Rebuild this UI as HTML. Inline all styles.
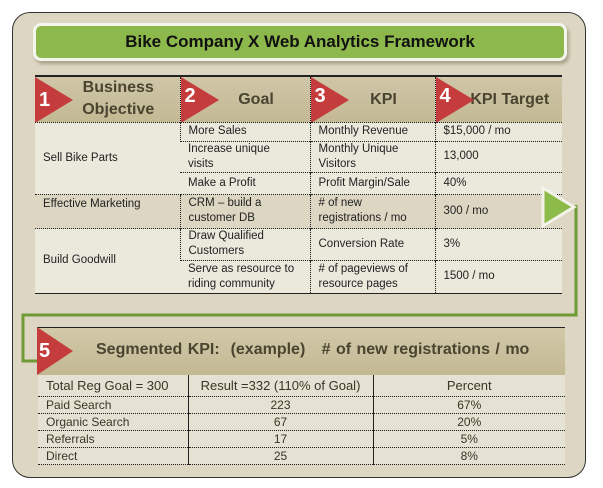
<!DOCTYPE html>
<html><head><meta charset="utf-8"><style>
*{margin:0;padding:0;box-sizing:border-box}
body{width:603px;height:488px;background:#fff;position:relative;overflow:hidden;font-family:"Liberation Sans",sans-serif;color:#222}
.abs{position:absolute}
.panel{left:12px;top:12px;width:574px;height:466px;border:1.5px solid #333;border-radius:18px;background:#dcd6c2}
.title{left:33px;top:23px;width:534px;height:38px;background:#8db84c;border:3px solid #f4f6ee;border-radius:8px;box-shadow:2px 3px 3px #a9a28c;text-align:center;font-weight:bold;font-size:17px;line-height:32px;color:#111}
table{border-collapse:collapse;position:absolute;font-size:11.5px;table-layout:fixed}
td{padding:0 8px;vertical-align:middle;overflow:hidden}
.t1{left:35px;top:75px;width:527px}
.t1 td{border-left:1px dotted #222;border-top:1px dotted #222;line-height:15px}
.t1 td:first-child{border-left:none}
.hd td{background:linear-gradient(#cfc6a8,#c3b994);height:46px;font-weight:bold;font-size:16px;color:#4a4430;border-top:2px solid #222;position:relative}
.lt{background:#ebe8dc}
.tri{position:absolute;left:0;top:0;width:0;height:0;border-top:23px solid transparent;border-bottom:23px solid transparent;border-left:38px solid #c43c3c}
.num{position:absolute;left:4px;top:12px;color:#fff;font-size:20px;font-weight:bold}
.t2{left:38px;top:375px;width:527px;font-size:12px;color:#3a3626}
.t2 td{border-left:1px solid #222;border-bottom:1px dotted #222;height:17px;background:#e6e2d3}
.t2 td:first-child{border-left:none}
.t2 tr:first-child td{height:21px;font-size:13px}
</style></head><body>
<div class="abs panel"></div>
<div class="abs title">Bike Company X Web Analytics Framework</div>
<table class="t1">
<colgroup><col style="width:145px"><col style="width:130px"><col style="width:125px"><col></colgroup>
<tr class="hd"><td style="text-align:center;padding-left:30px;line-height:22px"><div class="tri"></div><span class="num">1</span>Business<br>Objective</td>
<td style="text-align:center;padding-left:30px"><div class="tri"></div><span class="num">2</span>Goal</td>
<td style="text-align:center;padding-left:30px"><div class="tri"></div><span class="num">3</span>KPI</td>
<td style="text-align:center;padding-left:30px"><div class="tri"></div><span class="num">4</span>KPI Target</td></tr>
<tr class="lt"><td rowspan="3">Sell Bike Parts</td><td style="height:19px">More Sales</td><td>Monthly Revenue</td><td>$15,000 / mo</td></tr>
<tr class="lt"><td style="height:29px;padding-right:20px">Increase unique visits</td><td>Monthly Unique Visitors</td><td>13,000</td></tr>
<tr class="lt"><td style="height:22px">Make a Profit</td><td>Profit Margin/Sale</td><td>40%</td></tr>
<tr><td style="vertical-align:top;padding-top:2px;height:34px">Effective Marketing</td><td>CRM – build a customer DB</td><td># of new registrations / mo</td><td>300 / mo</td></tr>
<tr class="lt"><td rowspan="2">Build Goodwill</td><td style="height:32px">Draw Qualified Customers</td><td>Conversion Rate</td><td>3%</td></tr>
<tr class="lt" style="border-bottom:1.5px solid #222"><td style="height:33px">Serve as resource to riding community</td><td># of pageviews of resource pages</td><td>1500 / mo</td></tr>
</table>
<svg class="abs" style="left:0;top:0" width="603" height="488">
<polyline points="576,205 576,315 23,315 23,361 37,361" fill="none" stroke="#6f9a36" stroke-width="3"/>
<polygon points="543,188 574,207 543,226" fill="#8dbb4a" stroke="#f3f3ea" stroke-width="3"/>
</svg>
<div class="abs" style="left:37px;top:327px;width:528px;height:48px;background:linear-gradient(#d2c9aa,#c2b892);border-top:1.5px solid #222"></div>
<div class="abs" style="left:37px;top:327px;width:0;height:0;border-top:24px solid transparent;border-bottom:24px solid transparent;border-left:36px solid #c43c3c"></div>
<div class="abs" style="left:39px;top:340px;color:#fff;font-size:20px;font-weight:bold">5</div>
<div class="abs" style="left:96px;top:341px;font-size:16px;font-weight:bold;color:#4a4430;word-spacing:1px">Segmented KPI:&nbsp; (example)&nbsp;&nbsp; # of new registrations / mo</div>
<table class="t2">
<colgroup><col style="width:150px"><col style="width:185px"><col></colgroup>
<tr><td>Total Reg Goal = 300</td><td style="text-align:center">Result =332 (110% of Goal)</td><td style="text-align:center">Percent</td></tr>
<tr><td>Paid Search</td><td style="text-align:center">223</td><td style="text-align:center">67%</td></tr>
<tr><td>Organic Search</td><td style="text-align:center">67</td><td style="text-align:center">20%</td></tr>
<tr><td>Referrals</td><td style="text-align:center">17</td><td style="text-align:center">5%</td></tr>
<tr><td>Direct</td><td style="text-align:center">25</td><td style="text-align:center">8%</td></tr>
</table>
</body></html>
